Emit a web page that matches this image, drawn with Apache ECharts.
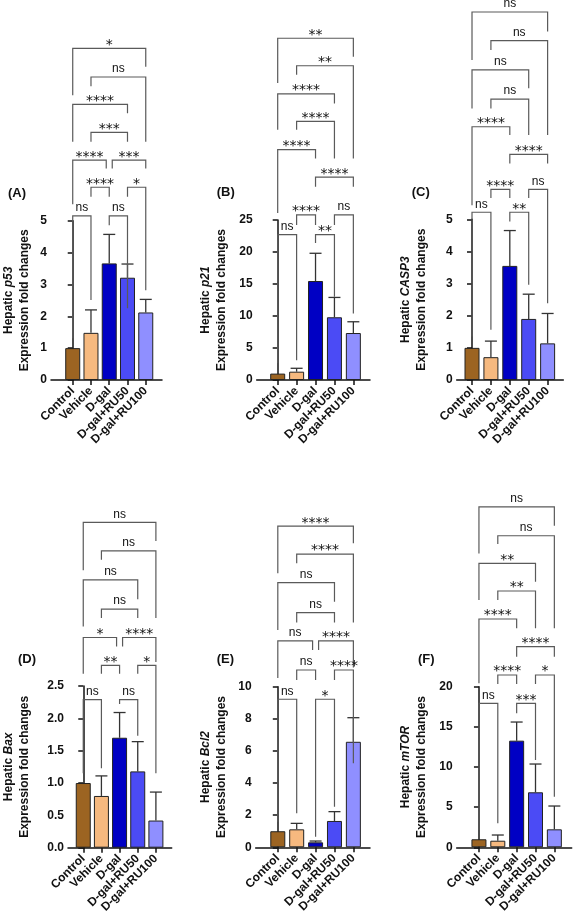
<!DOCTYPE html>
<html><head><meta charset="utf-8">
<script src="https://cdn.jsdelivr.net/npm/echarts@6/dist/echarts.min.js"></script>
<style>html,body{margin:0;padding:0;background:#fff}#c{width:573px;height:920px}</style>
</head><body><div id="c"></div>
<script>
const categories = ['Control', 'Vehicle', 'D-gal', 'D-gal+RU50', 'D-gal+RU100'];
const barColors = ['#9C6422', '#F6B97F', '#0000C4', '#4B4BF5', '#8F8FFF'];

// mean and SD (upper error bar) per group; brackets: [from, to, height, left leg end, right leg end, label]
const p53Mean = [1.0, 1.48, 3.66, 3.21, 2.12];
const p53SD   = [0, 0.72, 0.91, 0.43, 0.41];
const p53Ticks = [0, 1, 2, 3, 4, 5];
const p53Brackets = [
  [0, 4, 10.41, 8.94, 9.83, '*'],
  [1, 4, 9.51, 9.22, 7.48, 'ns'],
  [0, 3, 8.65, 7.48, 8.37, '****'],
  [1, 3, 7.77, 7.48, 7.48, '***'],
  [0, 2, 6.90, 5.52, 6.64, '****'],
  [2, 4, 6.90, 6.64, 6.64, '***'],
  [1, 2, 6.05, 5.75, 5.75, '****'],
  [3, 4, 6.05, 5.75, 2.82, '*'],
  [0, 1, 5.15, 1.31, 2.51, 'ns'],
  [2, 3, 5.15, 4.86, 2.25, 'ns']
];

const p21Mean = [1.0, 1.3, 15.47, 9.8, 7.34];
const p21SD   = [0, 0.53, 4.33, 3.1, 1.76];
const p21Ticks = [0, 5, 10, 15, 20, 25];
const p21Brackets = [
  [0, 4, 53.4, 46.4, 50.5, '**'],
  [1, 4, 49.1, 47.7, 34.6, '**'],
  [0, 3, 44.7, 39.1, 43.2, '****'],
  [1, 3, 40.4, 39.1, 34.6, '****'],
  [0, 2, 36.0, 26.1, 34.6, '****'],
  [2, 4, 31.7, 30.2, 30.2, '****'],
  [1, 2, 25.8, 24.2, 24.2, '****'],
  [3, 4, 25.8, 24.2, 10.4, 'ns'],
  [0, 1, 22.7, 2.6, 3.1, 'ns'],
  [2, 3, 22.7, 21.4, 13.0, '**']
];

const casp3Mean = [1.0, 0.71, 3.55, 1.9, 1.14];
const casp3SD   = [0, 0.5, 1.1, 0.77, 0.93];
const casp3Ticks = [0, 1, 2, 3, 4, 5];
const casp3Brackets = [
  [0, 4, 11.45, 9.96, 10.84, 'ns'],
  [1, 4, 10.56, 10.27, 7.62, 'ns'],
  [0, 3, 9.65, 8.45, 9.08, 'ns'],
  [1, 3, 8.74, 8.45, 7.62, 'ns'],
  [0, 2, 7.88, 5.44, 7.62, '****'],
  [2, 4, 7.02, 6.74, 6.74, '****'],
  [1, 2, 5.93, 5.66, 5.66, '****'],
  [3, 4, 5.93, 5.66, 2.39, 'ns'],
  [0, 1, 5.22, 1.35, 1.56, 'ns'],
  [2, 3, 5.22, 4.93, 2.96, '**']
];

const baxMean = [1.0, 0.8, 1.7, 1.18, 0.42];
const baxSD   = [0, 0.31, 0.39, 0.46, 0.44];
const baxTicks = [0, 0.5, 1.0, 1.5, 2.0, 2.5];
const baxBrackets = [
  [0, 4, 5.03, 4.29, 4.74, 'ns'],
  [1, 4, 4.59, 4.45, 3.55, 'ns'],
  [0, 3, 4.14, 3.42, 3.84, 'ns'],
  [1, 3, 3.69, 3.55, 3.55, 'ns'],
  [0, 2, 3.25, 2.69, 3.11, '*'],
  [2, 4, 3.25, 3.11, 2.87, '****'],
  [1, 2, 2.82, 2.69, 2.69, '**'],
  [3, 4, 2.82, 2.69, 1.15, '*'],
  [0, 1, 2.29, 1.15, 1.23, 'ns'],
  [2, 3, 2.29, 2.22, 1.73, 'ns']
];

const bcl2Mean = [1.0, 1.12, 0.31, 1.64, 6.57];
const bcl2SD   = [0, 0.37, 0.08, 0.58, 1.5];
const bcl2Ticks = [0, 2, 4, 6, 8, 10];
const bcl2Brackets = [
  [0, 4, 20.0, 17.06, 18.93, '****'],
  [1, 4, 18.26, 17.68, 13.99, '****'],
  [0, 3, 16.48, 13.53, 15.29, 'ns'],
  [1, 3, 14.61, 13.99, 13.99, 'ns'],
  [0, 2, 12.85, 10.54, 12.28, 'ns'],
  [2, 4, 12.85, 12.28, 11.2, '****'],
  [1, 2, 11.04, 10.42, 10.42, 'ns'],
  [3, 4, 11.04, 10.42, 5.23, '****'],
  [0, 1, 9.22, 1.59, 2.12, 'ns'],
  [2, 3, 9.22, 0.66, 2.53, '*']
];

const mtorMean = [1.0, 0.82, 13.28, 6.85, 2.24];
const mtorSD   = [0, 0.71, 2.32, 3.52, 2.9];
const mtorTicks = [0, 5, 10, 15, 20];
const mtorBrackets = [
  [0, 4, 42.4, 36.6, 40.05, 'ns'],
  [1, 4, 38.8, 37.77, 27.27, 'ns'],
  [0, 3, 35.37, 30.8, 33.08, '**'],
  [1, 3, 31.92, 30.8, 27.27, '**'],
  [0, 2, 28.43, 20.42, 27.27, '****'],
  [2, 4, 24.98, 23.74, 23.74, '****'],
  [1, 2, 21.46, 20.34, 20.34, '****'],
  [3, 4, 21.46, 20.34, 6.3, '*'],
  [0, 1, 17.93, 2.15, 2.99, 'ns'],
  [2, 3, 17.93, 16.69, 10.87, '***']
];

const FONT = "'Liberation Sans', Arial, sans-serif";
const panels = [
  {label:'(A)', gene:'p53',   mean:p53Mean,   sd:p53SD,   br:p53Brackets,   ticks:p53Ticks,   dec:0, grid:{left:48,   top:220.7, width:114,   height:159.3}, xMin:-1.19, xMax:4.89, nameGap:18,   lab:[8, 186.5]},
  {label:'(B)', gene:'p21',   mean:p21Mean,   sd:p21SD,   br:p21Brackets,   ticks:p21Ticks,   dec:0, grid:{left:256.7, top:220,  width:113.3, height:160},   xMin:-1.11, xMax:4.88, nameGap:26.7, lab:[216.7, 186]},
  {label:'(C)', gene:'CASP3', mean:casp3Mean, sd:casp3SD, br:casp3Brackets, ticks:casp3Ticks, dec:0, grid:{left:456.7, top:219.3, width:106.6, height:160.7}, xMin:-0.81, xMax:4.83, nameGap:26.7, lab:[411.7, 186]},
  {label:'(D)', gene:'Bax',   mean:baxMean,   sd:baxSD,   br:baxBrackets,   ticks:baxTicks,   dec:1, grid:{left:64.3,  top:686,   width:107.4, height:161.7}, xMin:-0.84, xMax:4.87, nameGap:35,   lab:[18, 652.5]},
  {label:'(E)', gene:'Bcl2',  mean:bcl2Mean,  sd:bcl2SD,  br:bcl2Brackets,  ticks:bcl2Ticks,  dec:0, grid:{left:255.7, top:686.7, width:114.3, height:160.6}, xMin:-1.17, xMax:4.88, nameGap:25.7, lab:[216.7, 652.5]},
  {label:'(F)', gene:'mTOR',  mean:mtorMean,  sd:mtorSD,  br:mtorBrackets,  ticks:mtorTicks,  dec:0, grid:{left:456.7, top:686.7, width:115,   height:160.6}, xMin:-1.18, xMax:4.92, nameGap:26.7, lab:[418, 652.5]}
];

const AX = '#111';
function bracketRender(list) {
  return function (params, api) {
    const idx = params.dataIndex;
    const b = list[idx];
    const i1 = b[0], i2 = b[1], y = b[2], label = b[5];
    let off1 = 0, off2 = 0;
    list.forEach((o, j) => {
      if (j === idx || o[2] !== y) return;
      if (o[1] === i1) off1 = 3;
      if (o[0] === i2) off2 = -3;
    });
    const pL = api.coord([i1, y]), pR = api.coord([i2, y]);
    const yL = api.coord([i1, b[3]])[1], yR = api.coord([i2, b[4]])[1];
    const xL = pL[0] + off1, xR = pR[0] + off2;
    const star = label[0] === '*';
    return {type:'group', children:[
      {type:'polyline', shape:{points:[[xL, yL], [xL, pL[1]], [xR, pL[1]], [xR, yR]]},
       style:{stroke:'#5a5a5a', lineWidth:1.2, fill:'none'}},
      {type:'text', style:{text:label, x:(xL + xR) / 2, y:pL[1] - (star ? 3.2 : 8),
       textAlign:'center', textVerticalAlign:'middle',
       font: star ? "14px 'DejaVu Sans'" : "12px 'Liberation Sans'", fill:'#111'}}
    ]};
  };
}
function errRender(params, api) {
  const x = api.value(0), m = api.value(1), t = api.value(2);
  const p0 = api.coord([x, m]), p1 = api.coord([x, t]);
  return {type:'group', children:[
    {type:'line', shape:{x1:p0[0], y1:p0[1], x2:p1[0], y2:p1[1]}, style:{stroke:'#333', lineWidth:1.3}},
    {type:'line', shape:{x1:p1[0] - 6, y1:p1[1], x2:p1[0] + 6, y2:p1[1]}, style:{stroke:'#333', lineWidth:1.3}}
  ]};
}

const option = {animation:false, backgroundColor:'#fff', title:[], grid:[], xAxis:[], yAxis:[], series:[]};
panels.forEach((p, k) => {
  option.title.push({text:p.label, left:p.lab[0], top:p.lab[1], padding:0,
    textStyle:{fontFamily:FONT, fontWeight:'bold', fontSize:13, color:'#111'}});
  option.grid.push(Object.assign({containLabel:false}, p.grid));
  const idx = [0, 1, 2, 3, 4];
  option.xAxis.push({gridIndex:k, type:'value', min:p.xMin, max:p.xMax,
    axisLine:{show:true, lineStyle:{color:AX, width:1.5}},
    axisTick:{show:true, customValues:idx, length:5, lineStyle:{color:AX, width:1.5}},
    axisLabel:{customValues:idx, formatter:v => categories[Math.round(v)], rotate:45, margin:9,
      fontFamily:FONT, fontSize:12, fontWeight:'bold', color:'#111', hideOverlap:false},
    splitLine:{show:false}});
  const step = p.ticks[1] - p.ticks[0];
  option.yAxis.push({gridIndex:k, type:'value', min:p.ticks[0], max:p.ticks[p.ticks.length - 1], interval:step,
    axisLine:{show:true, lineStyle:{color:AX, width:1.5}},
    axisTick:{show:true, length:5, lineStyle:{color:AX, width:1.5}},
    axisLabel:{margin:4, fontFamily:FONT, fontSize:12, fontWeight:'bold', color:'#111',
      formatter:v => v.toFixed(p.dec)},
    splitLine:{show:false},
    name:'{a|Hepatic }{i|' + p.gene + '}\n{a|Expression fold changes}',
    nameLocation:'middle', nameGap:p.nameGap,
    nameTextStyle:{fontFamily:FONT, fontWeight:'bold', fontSize:12, color:'#111', lineHeight:16,
      rich:{a:{fontFamily:FONT, fontWeight:'bold', fontSize:12, color:'#111', lineHeight:16},
            i:{fontFamily:FONT, fontWeight:'bold', fontStyle:'italic', fontSize:12, color:'#111', lineHeight:16}}}});
  option.series.push({type:'bar', xAxisIndex:k, yAxisIndex:k, barWidth:15,
    data:p.mean.map((v, i) => ({value:[i, v], itemStyle:{color:barColors[i]}})),
    itemStyle:{borderColor:'#222', borderWidth:1}, z:2});
  option.series.push({type:'custom', xAxisIndex:k, yAxisIndex:k, renderItem:errRender, clip:false, z:3,
    encode:{x:0, y:[1, 2]},
    data:p.mean.map((v, i) => [i, v, v + p.sd[i]]).filter((d, i) => p.sd[i] > 0)});
  option.series.push({type:'custom', xAxisIndex:k, yAxisIndex:k, renderItem:bracketRender(p.br), clip:false, z:4,
    encode:{x:[0, 1], y:[2, 3, 4]},
    data:p.br.map(b => b.slice(0, 5))});
});
const chart = echarts.init(document.getElementById('c'), null, {renderer:'canvas'});
chart.setOption(option);
</script></body></html>
